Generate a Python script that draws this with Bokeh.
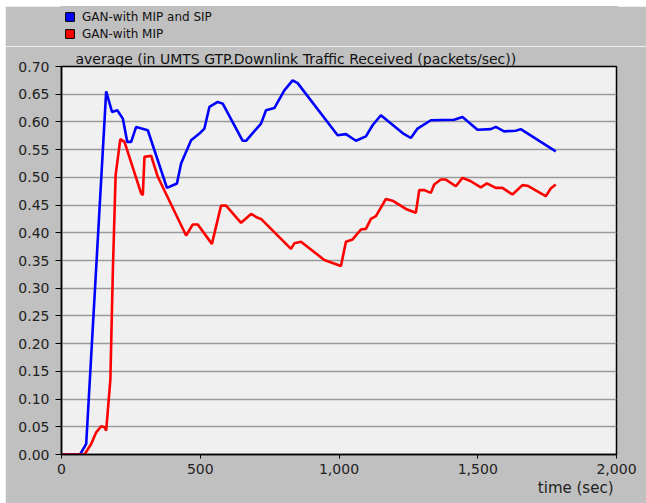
from bokeh.plotting import figure
from bokeh.layouts import column, row
from bokeh.models import (Range1d, FixedTicker, NumeralTickFormatter, Title,
                          Legend, LegendItem, Spacer)
from bokeh.embed import file_html
from bokeh.resources import INLINE

# ---- data ----
blue_t = [0, 67, 89, 161, 182, 201, 221, 237, 251, 269, 311, 380, 416, 431, 467,
          497, 515, 533, 563, 581, 653, 665, 719, 737, 767, 803, 833, 851, 995,
          1025, 1061, 1097, 1121, 1151, 1229, 1259, 1283, 1331, 1415, 1445, 1499,
          1547, 1565, 1595, 1637, 1655, 1781]
blue_v = [0, 0, 0.019, 0.655, 0.618, 0.621, 0.606, 0.564, 0.564, 0.591, 0.585,
          0.481, 0.489, 0.525, 0.567, 0.579, 0.588, 0.627, 0.636, 0.633, 0.566,
          0.566, 0.597, 0.621, 0.625, 0.657, 0.675, 0.670, 0.576, 0.578, 0.566,
          0.574, 0.594, 0.612, 0.580, 0.571, 0.588, 0.603, 0.604, 0.609, 0.586,
          0.587, 0.591, 0.583, 0.584, 0.587, 0.547]

red_t = [0, 83, 107, 125, 143, 155, 161, 176, 185, 195, 212, 227, 287, 293, 299,
         323, 347, 449, 473, 491, 542, 575, 593, 647, 683, 707, 719, 791, 827,
         839, 863, 947, 1007, 1025, 1049, 1079, 1097, 1115, 1133, 1169, 1193,
         1241, 1277, 1289, 1307, 1331, 1343, 1367, 1385, 1421, 1445, 1475, 1511,
         1533, 1565, 1589, 1625, 1661, 1679, 1745, 1763, 1781]
red_v = [0, 0, 0.019, 0.040, 0.051, 0.049, 0.043, 0.134, 0.33, 0.504, 0.569,
         0.564, 0.471, 0.468, 0.537, 0.539, 0.501, 0.395, 0.415, 0.415, 0.380,
         0.449, 0.449, 0.418, 0.434, 0.427, 0.425, 0.389, 0.371, 0.381, 0.384,
         0.351, 0.340, 0.384, 0.388, 0.406, 0.407, 0.425, 0.430, 0.461, 0.458,
         0.443, 0.436, 0.477, 0.477, 0.472, 0.487, 0.496, 0.496, 0.484, 0.499,
         0.493, 0.482, 0.489, 0.481, 0.481, 0.469, 0.486, 0.485, 0.466, 0.480,
         0.487]

series_names = ["GAN-with MIP and SIP", "GAN-with MIP"]
x_ticks = [0, 500, 1000, 1500, 2000]
y_ticks = [0.0, 0.05, 0.10, 0.15, 0.20, 0.25, 0.30, 0.35, 0.40, 0.45, 0.50,
           0.55, 0.60, 0.65, 0.70]
title_text = "average (in UMTS GTP.Downlink Traffic Received (packets/sec))"
x_label = "time (sec)"

font = "DejaVu Sans"
colors = ["#0000ff", "#ff0000"]
GRAY = "#c0c0c0"
W = 641
HDR_H = 40
H = 457
BL, BR, BT, BB = 56, 30, 20, 49

# ---- header strip holding the legend ----
hdr = figure(width=W, height=HDR_H, output_backend="svg", toolbar_location=None,
             title=None, x_axis_location=None, y_axis_location=None,
             x_range=Range1d(0, 1), y_range=Range1d(0, 1),
             min_border=0, min_border_left=0, min_border_right=0,
             min_border_top=0, min_border_bottom=0)
hdr.background_fill_color = GRAY
hdr.border_fill_color = GRAY
hdr.outline_line_color = GRAY
hdr.outline_line_width = 3
hdr.grid.grid_line_color = None

nan = float("nan")
items = []
for name, c in zip(series_names, colors):
    # swatch renderer: a single NaN datum, so only its legend glyph is drawn
    r = hdr.quad(left=[nan], right=[nan], top=[nan], bottom=[nan],
                 fill_color=c, line_color="black", line_width=1)
    items.append(LegendItem(label=name, renderers=[r]))
row_h = 17
legend = Legend(items=items, location=(3, HDR_H - 2 - 2 * row_h),
                orientation="vertical", padding=0, margin=0, spacing=0,
                border_line_color=None, background_fill_alpha=0,
                label_text_font=font, label_text_font_size="12px",
                label_text_color="#111111",
                glyph_width=11, glyph_height=11, label_height=row_h,
                label_standoff=7)
hdr.add_layout(legend, "center")

# ---- main chart ----
p = figure(width=W, height=H, output_backend="svg", toolbar_location=None,
           title=None,
           x_range=Range1d(0, 2000), y_range=Range1d(0, 0.70),
           min_border_left=BL, min_border_right=BR, min_border_top=BT,
           min_border_bottom=BB)
p.background_fill_color = "#f0f0f0"
p.border_fill_color = GRAY
p.outline_line_color = "black"
p.outline_line_width = 1.5

p.xgrid.visible = False
p.ygrid.ticker = FixedTicker(ticks=y_ticks)
p.ygrid.grid_line_color = "#9a9a9a"
p.ygrid.grid_line_width = 1.5

for ax in (p.xaxis[0], p.yaxis[0]):
    ax.axis_line_color = "black"
    ax.axis_line_width = 1.5
    ax.major_tick_line_color = "black"
    ax.major_tick_in = 0
    ax.minor_tick_line_color = None
    ax.major_label_text_font = font
    ax.major_label_text_font_size = "14px"
    ax.major_label_text_color = "#222222"

p.xaxis.ticker = FixedTicker(ticks=x_ticks)
p.xaxis.formatter = NumeralTickFormatter(format="0,0")
p.xaxis.major_tick_out = 4
p.xaxis.major_label_standoff = 5
p.yaxis.ticker = FixedTicker(ticks=y_ticks)
p.yaxis.formatter = NumeralTickFormatter(format="0.00")
p.yaxis.major_tick_out = 6
p.yaxis.major_label_standoff = 6

p.line(blue_t, blue_v, line_color=colors[0], line_width=2.6)
p.line(red_t, red_v, line_color=colors[1], line_width=2.6)

p.add_layout(Title(text=title_text, align="left", offset=14, standoff=0,
                   text_font=font, text_font_size="14px",
                   text_font_style="normal", text_color="#111111"), "above")
p.add_layout(Title(text=x_label, align="right", offset=3, standoff=0,
                   text_font=font, text_font_size="15px",
                   text_font_style="normal", text_color="#222222"), "below")

layout = column(Spacer(height=6, width=W + 5),
                row(Spacer(width=5, height=HDR_H + H),
                    column(hdr, p, spacing=0), spacing=0),
                spacing=0)

open("out.html", "w").write(file_html(layout, INLINE))
